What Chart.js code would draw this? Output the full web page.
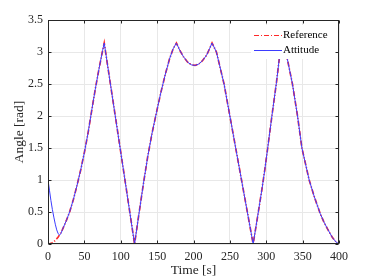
<!DOCTYPE html>
<html>
<head>
<meta charset="utf-8">
<script src="https://cdn.jsdelivr.net/npm/chart.js@4.4.1/dist/chart.umd.min.js"></script>
<style>
    html, body { margin: 0; padding: 0; background: #ffffff; }
    #myChart { display: block; }
</style>
</head>
<body>
<canvas id="myChart" width="374" height="280"></canvas>
<script>
    // time samples [s]
    var timeSec = [0, 2, 4, 6, 8, 10, 12, 14, 16, 18, 20, 25, 30, 35, 40, 45, 50, 55, 60, 65, 70, 75, 77.3,
        85, 95, 105, 112, 119,
        125, 131, 137, 143, 149, 155, 161, 167, 172, 176.5,
        181, 186, 192, 197, 202, 207, 212, 218, 222, 225.5,
        231.5, 242, 250, 258, 266, 274, 282,
        288, 294, 298, 302, 308, 314, 319, 323.5,
        327, 336, 343, 349, 359, 366, 374, 379, 384, 391, 396, 400];

    var referenceAngle = [0, 0.002, 0.009, 0.02, 0.036, 0.057, 0.082, 0.11, 0.145, 0.185, 0.23, 0.36, 0.51, 0.7, 0.92, 1.16, 1.43, 1.73, 2.08, 2.42, 2.73, 3.02, 3.14,
        2.56, 1.81, 1.06, 0.53, 0,
        0.47, 0.93, 1.36, 1.73, 2.05, 2.36, 2.64, 2.89, 3.05, 3.14,
        3.03, 2.93, 2.84, 2.80, 2.79, 2.81, 2.86, 2.95, 3.05, 3.14,
        3.0, 2.5, 2.0, 1.5, 1.0, 0.5, 0,
        0.42, 0.85, 1.16, 1.5, 2.02, 2.52, 3.0, 3.14,
        3.0, 2.5, 2.0, 1.5, 1.0, 0.74, 0.48, 0.35, 0.24, 0.1, 0.03, 0];

    var attitudeAngle = [1.0, 0.84, 0.68, 0.54, 0.42, 0.31, 0.22, 0.16, 0.14, 0.17, 0.23, 0.36, 0.51, 0.7, 0.92, 1.16, 1.43, 1.73, 2.08, 2.42, 2.73, 3.02, 3.14,
        2.56, 1.81, 1.06, 0.53, 0,
        0.47, 0.93, 1.36, 1.73, 2.05, 2.36, 2.64, 2.89, 3.05, 3.14,
        3.03, 2.93, 2.84, 2.80, 2.79, 2.81, 2.86, 2.95, 3.05, 3.14,
        3.0, 2.5, 2.0, 1.5, 1.0, 0.5, 0,
        0.42, 0.85, 1.16, 1.5, 2.02, 2.52, 3.0, 3.14,
        3.0, 2.5, 2.0, 1.5, 1.0, 0.74, 0.48, 0.35, 0.24, 0.1, 0.03, 0];

    var seriesNames = ['Reference', 'Attitude'];
    var xTicks = [0, 50, 100, 150, 200, 250, 300, 350, 400];
    var yTicks = [0, 0.5, 1, 1.5, 2, 2.5, 3, 3.5];

    var serif = '"Liberation Serif", "Times New Roman", serif';
    var red = 'rgb(255, 40, 40)';
    var blue = 'rgb(60, 60, 255)';
    var dashDot = [5, 2, 1, 2];

    function toPoints(xs, ys) {
        return xs.map((x, i) => ({x: x, y: ys[i]}));
    }

    // legend drawn inside the axes, top right, like matlab
    var boxLegend = {
        id: 'boxLegend',
        afterDatasetsDraw: function (chart) {
            var c = chart.ctx;
            var area = chart.chartArea;
            var x0 = area.right - 88, y0 = area.top + 5;
            c.save();
            c.fillStyle = '#ffffff';
            c.fillRect(x0, y0, 86, 34);
            c.lineWidth = 1;
            c.font = '11px ' + serif;
            c.textBaseline = 'middle';
            c.fillStyle = '#000000';
            var styles = [{color: red, dash: dashDot}, {color: blue, dash: []}];
            for (var i = 0; i < seriesNames.length; i++) {
                var y = Math.round(y0 + 10 + i * 15) + 0.5;
                c.strokeStyle = styles[i].color;
                c.setLineDash(styles[i].dash);
                c.beginPath();
                c.moveTo(x0 + 3, y);
                c.lineTo(x0 + 31, y);
                c.stroke();
                c.fillText(seriesNames[i], x0 + 32, y);
            }
            c.restore();
        }
    };

    // box around the axes with inward ticks on all four sides
    var axesBox = {
        id: 'axesBox',
        afterDraw: function (chart) {
            var c = chart.ctx;
            var a = chart.chartArea;
            var sx = chart.scales.x, sy = chart.scales.y;
            var L = Math.round(a.left) + 0.5, R = Math.round(a.right) - 0.5;
            var T = Math.round(a.top) + 0.5, B = Math.round(a.bottom) - 0.5;
            c.save();
            c.strokeStyle = '#262626';
            c.lineWidth = 1;
            c.strokeRect(L, T, R - L, B - T);
            c.beginPath();
            xTicks.forEach(function (v) {
                var px = Math.round(sx.getPixelForValue(v)) + 0.5;
                c.moveTo(px, B); c.lineTo(px, B - 3);
                c.moveTo(px, T); c.lineTo(px, T + 3);
            });
            yTicks.forEach(function (v) {
                var py = Math.round(sy.getPixelForValue(v)) + 0.5;
                c.moveTo(L, py); c.lineTo(L + 3, py);
                c.moveTo(R, py); c.lineTo(R - 3, py);
            });
            c.stroke();
            c.restore();
        }
    };

    var ctx = document.getElementById('myChart');
    var myChart = new Chart(ctx, {
        type: 'line',
        data: {
            datasets: [{
                label: seriesNames[0],
                data: toPoints(timeSec, referenceAngle),
                borderColor: red,
                borderWidth: 1.7,
                borderDash: dashDot,
                pointRadius: 0,
                tension: 0,
                fill: false,
                order: 1
            }, {
                label: seriesNames[1],
                data: toPoints(timeSec, attitudeAngle),
                borderColor: blue,
                borderWidth: 1,
                pointRadius: 0,
                tension: 0,
                fill: false,
                order: 0
            }]
        },
        options: {
            responsive: false,
            animation: false,
            devicePixelRatio: 1,
            layout: {padding: {left: 0, right: 35, top: 20, bottom: 0}},
            plugins: {
                legend: {display: false},
                tooltip: {enabled: false}
            },
            scales: {
                x: {
                    type: 'linear',
                    min: 0,
                    max: 400,
                    afterBuildTicks: function (scale) {
                        scale.ticks = xTicks.map(v => ({value: v}));
                    },
                    afterFit: function (scale) { scale.height = 36; },
                    grid: {color: '#e8e8e8', drawTicks: false},
                    border: {display: false},
                    ticks: {
                        color: '#262626',
                        padding: 6,
                        maxRotation: 0,
                        callback: v => String(v),
                        font: {family: serif, size: 12}
                    },
                    title: {
                        display: true,
                        text: 'Time [s]',
                        color: '#262626',
                        padding: {top: 0, bottom: 1},
                        font: {family: serif, size: 13.5}
                    }
                },
                y: {
                    type: 'linear',
                    min: 0,
                    max: 3.5,
                    afterBuildTicks: function (scale) {
                        scale.ticks = yTicks.map(v => ({value: v}));
                    },
                    afterFit: function (scale) { scale.width = 48; },
                    grid: {color: '#e8e8e8', drawTicks: false},
                    border: {display: false},
                    ticks: {
                        color: '#262626',
                        padding: 5,
                        callback: v => String(v),
                        font: {family: serif, size: 12}
                    },
                    title: {
                        display: true,
                        text: 'Angle [rad]',
                        color: '#262626',
                        padding: {top: 11, bottom: 0},
                        font: {family: serif, size: 13.5}
                    }
                }
            }
        },
        plugins: [boxLegend, axesBox]
    });
</script>
</body>
</html>
